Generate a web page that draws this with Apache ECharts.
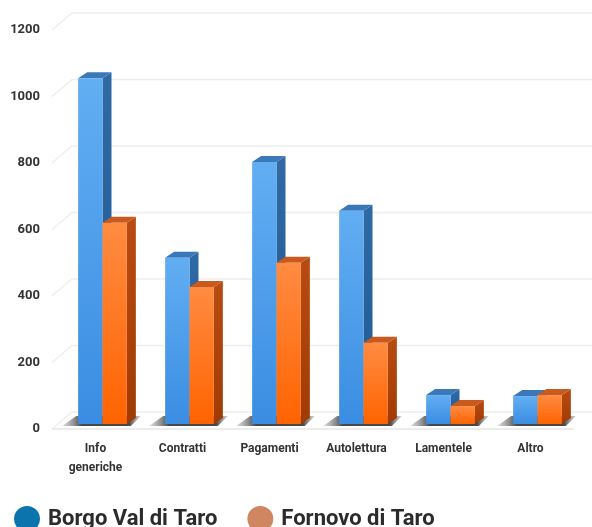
<!DOCTYPE html>
<html>
<head>
<meta charset="utf-8">
<script src="https://cdn.jsdelivr.net/npm/echarts@6/dist/echarts.min.js"></script>
<style>html,body{margin:0;background:#fff}#chart{width:592px;height:527px}</style>
</head>
<body>
<div id="chart"></div>
<script>
const categories = ['Info\ngeneriche', 'Contratti', 'Pagamenti', 'Autolettura', 'Lamentele', 'Altro']
const borgo = [1040, 500, 788, 641, 87, 84]
const fornovo = [605, 412, 485, 244, 54, 87]
const yTicks = [0, 200, 400, 600, 800, 1000, 1200]

const chart = echarts.init(document.getElementById('chart'))

// bars stand a little behind the front edge, back wall further back
const PLANE_DX = 7, PLANE_DY = -5
const DEPTH_DX = 9, DEPTH_DY = -6
const WALL_DX = 20, WALL_DY = -17

function grad(c0, c1) {
  return new echarts.graphic.LinearGradient(0, 0, 0, 1, [
    { offset: 0, color: c0 },
    { offset: 1, color: c1 }
  ])
}

function bar3d(side, col) {
  return function (params, api) {
    const c = api.coord([api.value(0), api.value(1)])
    const base = api.coord([api.value(0), 0])
    const bw = api.size([1, 0])[0] * 0.28
    const x0 = side < 0 ? c[0] + PLANE_DX - bw : c[0] + PLANE_DX
    const x1 = x0 + bw
    const top = c[1] + PLANE_DY
    const bot = base[1] + PLANE_DY
    return {
      type: 'group',
      children: [
        { type: 'polygon', shape: { points: [[x1, top], [x1 + DEPTH_DX, top + DEPTH_DY], [x1 + DEPTH_DX, bot + DEPTH_DY], [x1, bot]] }, style: { fill: grad(col.side0, col.side1) } },
        { type: 'polygon', shape: { points: [[x0, top], [x0 + DEPTH_DX, top + DEPTH_DY], [x1 + DEPTH_DX, top + DEPTH_DY], [x1, top]] }, style: { fill: col.top } },
        { type: 'rect', shape: { x: x0, y: top, width: bw, height: bot - top }, style: { fill: grad(col.front0, col.front1) } }
      ]
    }
  }
}

// soft floor shadow under each pair of bars
function shadowItem(params, api) {
  const c = api.coord([api.value(0), 0])
  const bw = api.size([1, 0])[0] * 0.28
  const x0 = c[0] + PLANE_DX - bw
  const x1 = c[0] + PLANE_DX + bw
  const y = c[1] + PLANE_DY
  return {
    type: 'polygon',
    shape: { points: [[x0 - 16, y + 2], [x0 - 2, y - 8], [x1 + 14, y - 8], [x1 + 4, y + 2]] },
    style: {
      fill: new echarts.graphic.LinearGradient(0, 0, 1, 0, [
        { offset: 0, color: 'rgba(120,120,120,0.25)' },
        { offset: 0.25, color: 'rgba(40,40,40,0.85)' },
        { offset: 0.85, color: 'rgba(40,40,40,0.85)' },
        { offset: 1, color: 'rgba(120,120,120,0.3)' }
      ])
    }
  }
}

function gridItem(params, api) {
  const y = api.coord([0, api.value(1)])[1]
  const left = params.coordSys.x
  const children = [{
    type: 'polyline',
    shape: { points: [[left, y], [left + WALL_DX, y + WALL_DY], [592, y + WALL_DY]] },
    style: { stroke: '#eeeeee', lineWidth: 1.5, fill: null }
  }]
  if (api.value(1) === 0) {
    children.push({
      type: 'line',
      shape: { x1: left, y1: y, x2: params.coordSys.x + params.coordSys.width, y2: y },
      style: { stroke: '#e6e6e6', lineWidth: 1.5 }
    })
  }
  return { type: 'group', children }
}

const option = {
  animation: false,
  grid: { left: 52, right: 18, top: 30, bottom: 98 },
  legend: {
    data: ['Borgo Val di Taro', 'Fornovo di Taro'],
    left: 9,
    top: 501,
    icon: 'circle',
    itemWidth: 26,
    itemHeight: 26,
    itemGap: 30,
    textStyle: { fontFamily: 'Roboto', fontWeight: 'bold', fontSize: 22, color: '#2b2b2b', padding: [0, 0, 0, 3] }
  },
  xAxis: {
    type: 'category',
    data: categories,
    axisLine: { show: false },
    axisTick: { show: false },
    axisLabel: { margin: 10, fontFamily: 'Roboto', fontWeight: 'bold', fontSize: 12, lineHeight: 19, color: '#333' }
  },
  yAxis: {
    type: 'value',
    min: 0,
    max: 1200,
    interval: 200,
    axisLine: { show: false },
    axisTick: { show: false },
    splitLine: { show: false },
    axisLabel: { margin: 12, fontFamily: 'Roboto', fontWeight: 'bold', fontSize: 13, color: '#333', formatter: v => String(v) }
  },
  series: [
    {
      type: 'custom', name: 'grid', z: 1, silent: true, clip: false,
      renderItem: gridItem,
      encode: { x: 0, y: 1 },
      data: yTicks.map(v => [0, v])
    },
    {
      type: 'custom', name: 'shadow', z: 2, silent: true, clip: false,
      renderItem: shadowItem,
      encode: { x: 0, y: 1 },
      data: categories.map((c, i) => [i, 0])
    },
    {
      type: 'custom', name: 'Borgo Val di Taro', z: 3, clip: false,
      itemStyle: { color: '#0b74ad' },
      renderItem: bar3d(-1, { front0: '#62aef3', front1: '#3a8de2', side0: '#2f6aa5', side1: '#1f5893', top: '#3a78b8' }),
      encode: { x: 0, y: 1 },
      data: borgo.map((v, i) => [i, v])
    },
    {
      type: 'custom', name: 'Fornovo di Taro', z: 4, clip: false,
      itemStyle: { color: '#d08660' },
      renderItem: bar3d(1, { front0: '#ff8b42', front1: '#ff6300', side0: '#b84c12', side1: '#a03a04', top: '#c95a1d' }),
      encode: { x: 0, y: 1 },
      data: fornovo.map((v, i) => [i, v])
    }
  ]
}

chart.setOption(option)
</script>
</body>
</html>
